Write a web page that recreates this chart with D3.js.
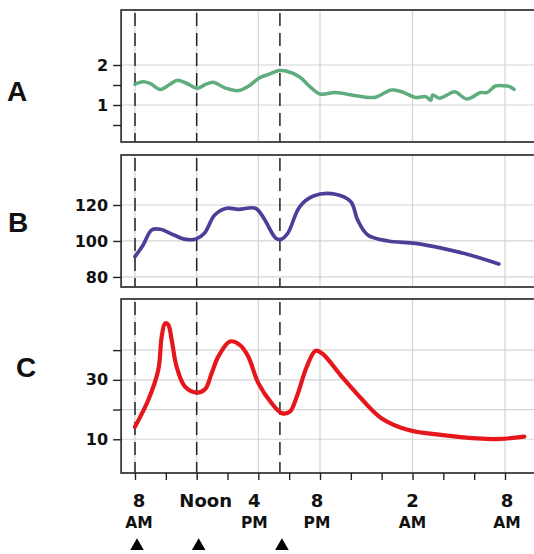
<!DOCTYPE html>
<html>
<head>
<meta charset="UTF-8">
<title>Daily profiles A, B, C</title>
<style>
  body { margin: 0; background: #fff; }
  text { font-family: "DejaVu Sans", sans-serif; font-weight: bold; fill: #111; }
  .letter { font-family: "Liberation Sans", Arial, sans-serif; font-size: 28px; }
</style>
</head>
<body>
<script src="https://d3js.org/d3.v7.min.js"></script>
<script>
// hours since midnight of day 1 (24+ = next day)
const mealHours = [8, 12, 17.4];
const xTickHours = [8, 10, 12, 14, 16, 18, 20, 22, 24, 26, 28, 30, 32];
const xLabelHours = [8, 12, 16, 20, 26, 32];
const xLabelTop = ["8", "Noon", "4", "8", "2", "8"];
const xLabelBottom = ["AM", "", "PM", "PM", "AM", "AM"];

// panel A
const hoursA = [8.0, 8.53, 8.97, 9.64, 10.2, 10.74, 11.3, 12.06, 12.5, 13.05, 13.83, 14.71, 15.4, 16.03, 16.7, 17.36, 17.8, 18.68, 19.34, 20.0, 21.0, 22.44, 23.54, 24.64, 25.3, 26.19, 26.85, 27.19, 27.3, 27.74, 28.2, 28.73, 29.5, 29.94, 30.38, 30.83, 31.38, 31.93, 32.3, 32.59];
const valuesA = [1.52, 1.58, 1.54, 1.39, 1.5, 1.62, 1.55, 1.42, 1.5, 1.57, 1.43, 1.36, 1.48, 1.67, 1.77, 1.86, 1.85, 1.7, 1.46, 1.275, 1.31, 1.225, 1.19, 1.375, 1.33, 1.19, 1.21, 1.12, 1.25, 1.17, 1.24, 1.33, 1.15, 1.21, 1.31, 1.31, 1.475, 1.48, 1.46, 1.39];

// panel B
const hoursB = [8.0, 8.53, 9.08, 9.64, 10.52, 11.29, 11.95, 12.5, 13.17, 13.94, 14.71, 15.81, 16.36, 17.14, 17.47, 17.91, 18.68, 19.57, 21.0, 22.0, 22.44, 23.1, 24.42, 26.19, 27.95, 29.72, 31.6];
const valuesB = [91.3, 97.8, 106.1, 106.5, 103.3, 100.9, 101.1, 104.3, 114.4, 118.2, 117.6, 118.2, 112.6, 101.5, 100.9, 104.3, 119, 125, 126, 121.8, 111.7, 103.3, 100, 98.7, 95.9, 92.2, 87.2];

// panel C
const hoursC = [8.0, 8.86, 9.51, 9.73, 9.95, 10.16, 10.38, 10.7, 11.24, 12.0, 12.54, 12.97, 13.4, 14.16, 14.81, 15.35, 16.0, 16.87, 17.52, 18.05, 18.49, 19.14, 19.72, 20.2, 21.33, 22.66, 23.98, 25.75, 27.95, 30.17, 31.7, 33.25];
const valuesC = [14.2, 23.2, 33.3, 44.5, 49.0, 48.5, 43.4, 34.4, 27.7, 25.7, 26.8, 32.2, 37.8, 42.9, 41.7, 37.8, 28.9, 22.1, 18.8, 19.3, 24.3, 34.4, 39.8, 38.6, 31.6, 23.8, 17.1, 13.1, 11.4, 10.3, 10.1, 10.9];

const width = 534, height = 554;
const svg = d3.select("body").append("svg")
  .attr("width", width)
  .attr("height", height);

const x = d3.scaleLinear().domain([8, 32]).range([135, 505]);
const x0 = x(7.1), x1 = x(35);
const labelNudge = [4, 9, -4, -3, 0, 2];

const panels = [
  {letter: "A", hours: hoursA, values: valuesA, color: "#5fac7e", lw: 3.5,
   top: 10, bottom: 142, domain: [0.075, 3.375],
   ticks: [0.5, 1, 1.5, 2], labels: [1, 2], grid: [1, 2], lx: 17, ly: 101},
  {letter: "B", hours: hoursB, values: valuesB, color: "#4b3f98", lw: 3.7,
   top: 155, bottom: 287, domain: [74.4, 147.8],
   ticks: [80, 100, 120], labels: [80, 100, 120], grid: [80, 100, 120], lx: 18, ly: 232},
  {letter: "C", hours: hoursC, values: valuesC, color: "#e5161c", lw: 4.2,
   top: 299, bottom: 473, domain: [-1.35, 57.2],
   ticks: [10, 20, 30, 40], labels: [10, 30], grid: [10, 20, 30, 40], lx: 26, ly: 377}
];

panels.forEach(p => {
  const y = d3.scaleLinear().domain(p.domain).range([p.bottom, p.top]);
  const g = svg.append("g");

  // grid
  g.selectAll(".hg").data(p.grid).join("line")
    .attr("x1", x0).attr("x2", x1)
    .attr("y1", d => y(d)).attr("y2", d => y(d))
    .attr("stroke", "#d4d4d4").attr("stroke-width", 1.2);
  g.selectAll(".vg").data(xLabelHours).join("line")
    .attr("x1", d => x(d)).attr("x2", d => x(d))
    .attr("y1", p.top).attr("y2", p.bottom)
    .attr("stroke", "#d4d4d4").attr("stroke-width", 1.2);

  // meal-time dashed lines
  g.selectAll(".meal").data(mealHours).join("line")
    .attr("x1", d => x(d)).attr("x2", d => x(d))
    .attr("y1", p.top + 3).attr("y2", p.bottom)
    .attr("stroke", "#222").attr("stroke-width", 1.5)
    .attr("stroke-dasharray", "13,7");

  // series
  const line = d3.line()
    .x((d, i) => x(p.hours[i]))
    .y(d => y(d))
    .curve(d3.curveCatmullRom.alpha(0.5));
  g.append("path").datum(p.values)
    .attr("d", line)
    .attr("fill", "none")
    .attr("stroke", p.color)
    .attr("stroke-width", p.lw)
    .attr("stroke-linecap", "round")
    .attr("stroke-linejoin", "round");

  // frame
  g.append("rect")
    .attr("x", x0).attr("y", p.top)
    .attr("width", x1 - x0).attr("height", p.bottom - p.top)
    .attr("fill", "none").attr("stroke", "#3a3a3a").attr("stroke-width", 1.8);

  // y axis
  const yAxis = d3.axisLeft(y).tickValues(p.ticks).tickSize(8).tickPadding(5)
    .tickFormat(d => p.labels.includes(d) ? d : "");
  const ya = g.append("g").attr("transform", `translate(${x0},0)`).call(yAxis);
  ya.select(".domain").remove();
  ya.selectAll(".tick line").attr("stroke", "#222").attr("stroke-width", 1.4);
  ya.selectAll(".tick text").attr("font-size", 16).attr("fill", "#111");

  svg.append("text").attr("class", "letter")
    .attr("x", p.lx).attr("y", p.ly)
    .attr("text-anchor", "middle")
    .text(p.letter);
});

// x axis under panel C
const bottom = panels[2].bottom;
const xAxis = d3.axisBottom(x).tickValues(xTickHours).tickSize(7).tickFormat("");
const xa = svg.append("g").attr("transform", `translate(0,${bottom})`).call(xAxis);
xa.select(".domain").remove();
xa.selectAll(".tick line").attr("stroke", "#222").attr("stroke-width", 1.4);

const xl = svg.append("g");
xl.selectAll(".top").data(xLabelHours).join("text")
  .attr("x", (d, i) => x(d) + labelNudge[i])
  .attr("y", 507)
  .attr("text-anchor", "middle")
  .attr("font-size", 18)
  .text((d, i) => xLabelTop[i]);
xl.selectAll(".bot").data(xLabelHours).join("text")
  .attr("x", (d, i) => x(d) + labelNudge[i])
  .attr("y", 528)
  .attr("text-anchor", "middle")
  .attr("font-size", 15.5)
  .text((d, i) => xLabelBottom[i]);

// meal markers
svg.selectAll(".tri").data(mealHours).join("path")
  .attr("d", d3.symbol().type(d3.symbolTriangle).size(80))
  .attr("transform", d => `translate(${x(d) + 2},546)`)
  .attr("fill", "#000");
</script>
</body>
</html>
